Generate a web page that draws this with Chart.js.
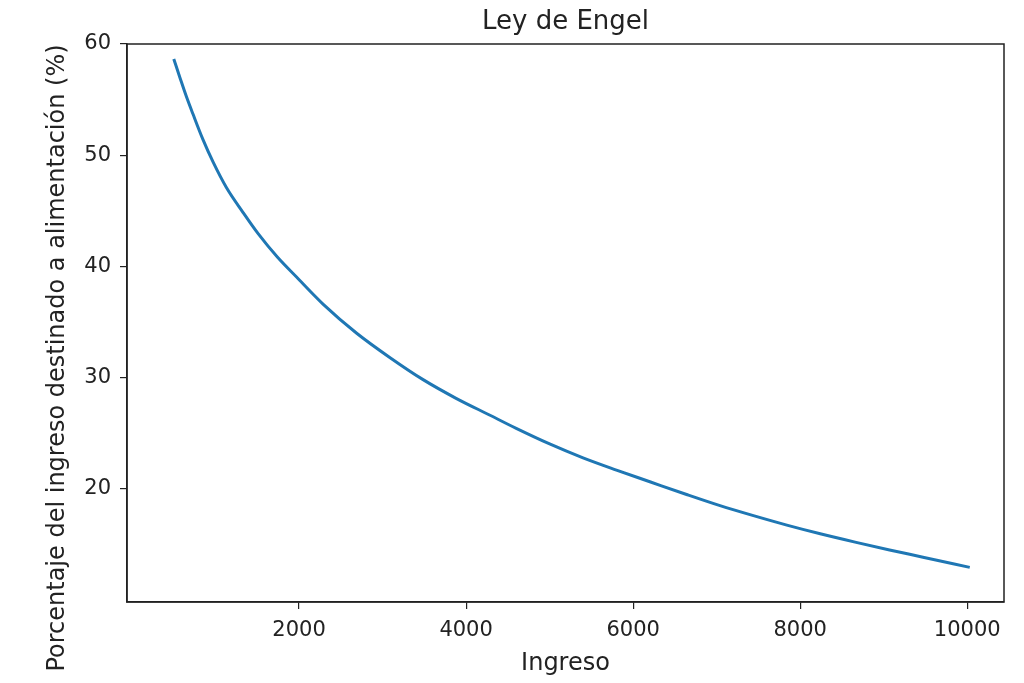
<!DOCTYPE html>
<html>
<head>
<meta charset="utf-8">
<script src="https://cdn.jsdelivr.net/npm/chart.js@4"></script>
<style>
html,body{margin:0;padding:0;background:#fff;}
#wrap{width:1024px;height:683px;}
</style>
</head>
<body>
<div id="wrap"><canvas id="c" width="1024" height="683"></canvas></div>
<script>
const ingreso = [500, 575, 650, 730, 850, 970, 1130, 1330, 1510, 1740, 1970, 2290, 2690, 3090, 3480, 3880, 4280, 4600, 5000, 5400, 5800, 6200, 6640, 7040, 7440, 7840, 8240, 8670, 9070, 9470, 10030];
const porcentaje = [58.65, 56.95, 55.3, 53.7, 51.4, 49.4, 47.1, 44.85, 42.95, 40.85, 39.05, 36.6, 34.0, 31.8, 29.85, 28.15, 26.65, 25.45, 24.05, 22.8, 21.7, 20.65, 19.5, 18.5, 17.6, 16.75, 15.97, 15.2, 14.52, 13.87, 12.95];
const xTicks = [2000, 4000, 6000, 8000, 10000];
const yTicks = [20, 30, 40, 50, 60];
const titleText = 'Ley de Engel';
const xTitle = 'Ingreso';
const yTitle = 'Porcentaje del ingreso destinado a alimentación (%)';

const FONT = "'DejaVu Sans', sans-serif";
const TXT = '#222222';

const framePlugin = {
  id: 'frame',
  afterDraw(chart) {
    const a = chart.chartArea, ctx = chart.ctx;
    ctx.save();
    ctx.strokeStyle = '#222222';
    ctx.lineWidth = 1.5;
    ctx.strokeRect(a.left, a.top, a.right - a.left, a.bottom - a.top);
    // y axis title
    ctx.fillStyle = TXT;
    ctx.font = "24px 'DejaVu Sans', sans-serif";
    ctx.textAlign = 'center';
    ctx.textBaseline = 'alphabetic';
    ctx.translate(64, 358);
    ctx.rotate(-Math.PI / 2);
    ctx.fillText(yTitle, 0, 0);
    ctx.restore();
  }
};

new Chart(document.getElementById('c'), {
  type: 'line',
  data: {
    datasets: [{
      data: ingreso.map((x, i) => ({x: x, y: porcentaje[i]})),
      borderColor: '#1f77b4',
      borderWidth: 3,
      pointRadius: 0,
      fill: false,
      cubicInterpolationMode: 'monotone'
    }]
  },
  options: {
    responsive: false,
    animation: false,
    layout: {padding: {left: 0, right: 20, top: 0, bottom: 0}},
    plugins: {
      legend: {display: false},
      tooltip: {enabled: false},
      title: {
        display: true,
        text: titleText,
        fullSize: false,
        color: TXT,
        font: {family: FONT, size: 26, weight: 'normal', lineHeight: 1},
        padding: {top: 9, bottom: 9}
      }
    },
    scales: {
      x: {
        type: 'linear',
        min: -60,
        max: 10440,
        afterBuildTicks: s => { s.ticks = xTicks.map(v => ({value: v})); },
        afterFit: s => { s.height = 81; },
        grid: {display: true, drawOnChartArea: false, drawTicks: true, tickLength: 7, color: '#222222', lineWidth: 1.2},
        border: {display: true, color: '#222222', width: 1.5},
        ticks: {color: TXT, font: {family: FONT, size: 21}, padding: 9, maxRotation: 0, callback: v => String(v)},
        title: {display: true, text: xTitle, color: TXT, font: {family: FONT, size: 24}, padding: {top: 0, bottom: 5}}
      },
      y: {
        type: 'linear',
        min: 9.84,
        max: 60,
        afterBuildTicks: s => { s.ticks = yTicks.map(v => ({value: v})); },
        afterFit: s => { s.width = 127; },
        grid: {display: true, drawOnChartArea: false, drawTicks: true, tickLength: 7, color: '#222222', lineWidth: 1.2},
        border: {display: true, color: '#222222', width: 1.5},
        ticks: {color: TXT, font: {family: FONT, size: 21}, padding: 9, callback: v => String(v)},
        title: {display: false}
      }
    }
  },
  plugins: [framePlugin]
});
</script>
</body>
</html>
